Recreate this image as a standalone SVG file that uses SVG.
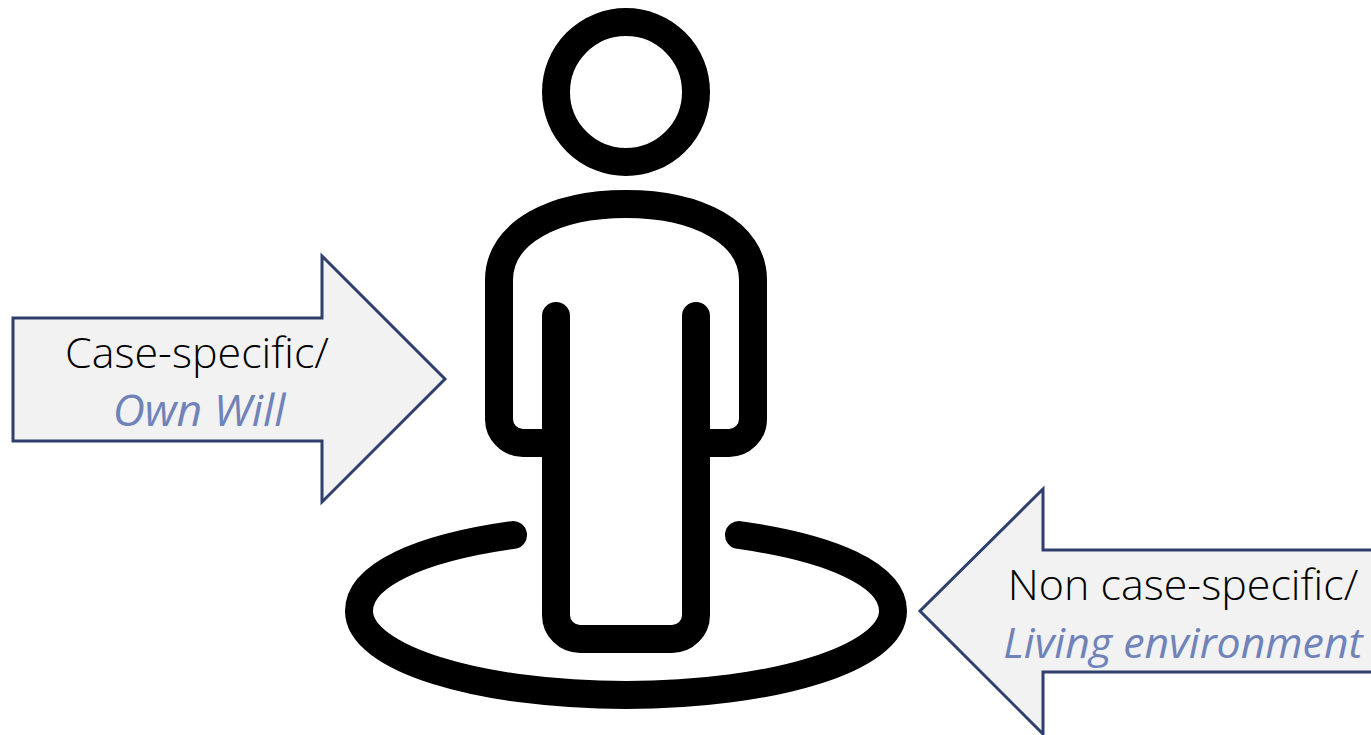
<svg xmlns="http://www.w3.org/2000/svg" width="1371" height="735" viewBox="0 0 1371 735">
<style>
.line{fill:none;stroke:#000;stroke-width:28;stroke-linecap:round;stroke-linejoin:round}
.arrow{fill:#f2f2f2;stroke:#2f3f6e;stroke-width:3;stroke-linejoin:miter}
.t{font-family:"Open Sans","Noto Sans","Liberation Sans",sans-serif;font-weight:300;font-size:43px;text-anchor:middle;fill:#000}
.i{font-style:italic;font-weight:400;fill:#6f83b9}
</style>
<rect width="1371" height="735" fill="#fff"/>
<g id="person">
<circle class="line" cx="626" cy="92" r="70"/>
<path class="line" stroke-linecap="butt" d="M556 443H523a24 24 0 0 1-24-24V280C499 232 555 204 626 204S753 232 753 280V419a24 24 0 0 1-24 24H696"/>
<path class="line" d="M556 316V615a24 24 0 0 0 24 24H672a24 24 0 0 0 24-24V316"/>
<path class="line" d="M513 535C420 548 359 575 359 611C359 658 478 695 626 695S893 658 893 611C893 575 832 548 739 535"/>
</g>
<g id="arrow-case-specific">
<path class="arrow" d="M13 318H322V256L445 379L322 502V441H13Z"/>
<text class="t" x="197" y="368">Case-specific/</text>
<text class="t i" x="199" y="426" style="font-size:44.5px">Own Will</text>
</g>
<g id="arrow-non-case-specific">
<path class="arrow" d="M1375 550H1043V489L920 611L1043 734V672H1375Z"/>
<text class="t" x="1183" y="600">Non case-specific/</text>
<text class="t i" x="1183" y="658" style="font-size:42.8px">Living environment</text>
</g>
<g id="connectors"/>
</svg>
